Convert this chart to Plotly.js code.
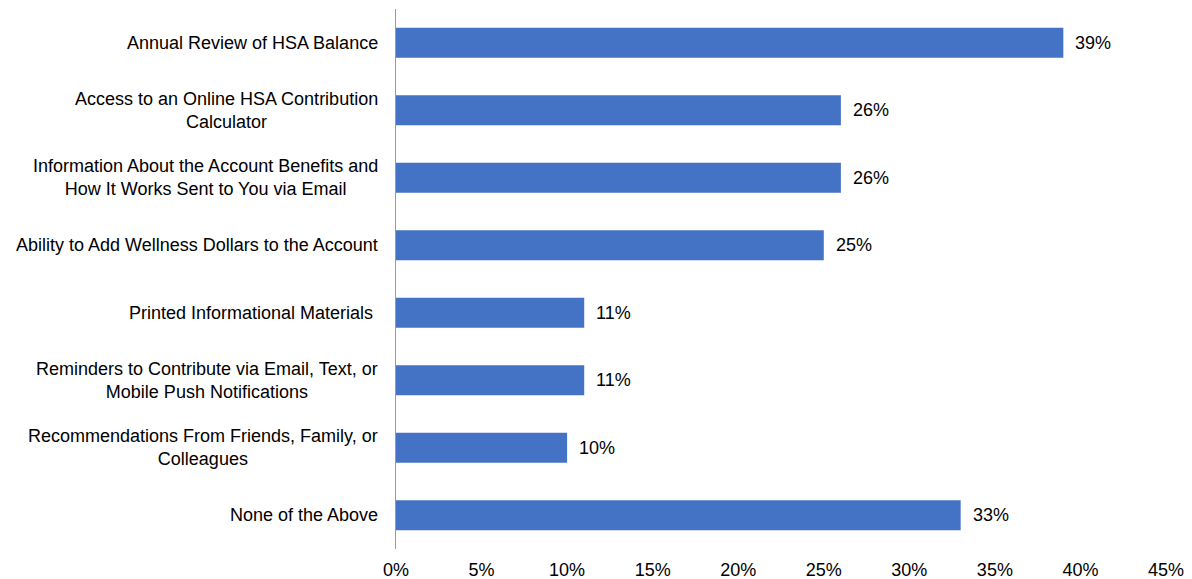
<!DOCTYPE html>
<html>
<head>
<meta charset="utf-8">
<script src="https://cdn.plot.ly/plotly-3.0.1.min.js"></script>
<style>html,body{margin:0;padding:0;background:#fff;}#chart{width:1192px;height:579px;}</style>
</head>
<body>
<div id="chart"></div>
<script>
const categories = [
  "Annual Review of HSA Balance",
  "Access to an Online HSA Contribution<br>Calculator",
  "Information About the Account Benefits and<br>How It Works Sent to You via Email",
  "Ability to Add Wellness Dollars to the Account",
  "Printed Informational Materials ",
  "Reminders to Contribute via Email, Text, or<br>Mobile Push Notifications",
  "Recommendations From Friends, Family, or<br>Colleagues",
  "None of the Above"
];
const values = [0.39, 0.26, 0.26, 0.25, 0.11, 0.11, 0.10, 0.33];
const valueLabels = ["39%", "26%", "26%", "25%", "11%", "11%", "10%", "33%"];
const tickVals = [0, 0.05, 0.10, 0.15, 0.20, 0.25, 0.30, 0.35, 0.40, 0.45];
const tickText = ["0%", "5%", "10%", "15%", "20%", "25%", "30%", "35%", "40%", "45%"];

const font = {family: "Liberation Sans, Arial, sans-serif", size: 18, color: "#000"};

const annotations = [];
categories.forEach((c, i) => {
  annotations.push({
    x: values[i], y: c, xref: "x", yref: "y", text: valueLabels[i],
    showarrow: false, xanchor: "left", yanchor: "middle", xshift: 10, font: font
  });
  annotations.push({
    x: 0, y: c, xref: "x", yref: "y", text: c,
    showarrow: false, xanchor: "right", yanchor: "middle", align: "center", xshift: -16, font: font
  });
});

const trace = {
  type: "bar", orientation: "h",
  x: values, y: categories,
  marker: {color: "#4472C4"},
  width: 0.445,
  hoverinfo: "none"
};

const layout = {
  width: 1192, height: 579,
  margin: {l: 396, r: 26, t: 9, b: 30},
  paper_bgcolor: "#fff", plot_bgcolor: "#fff",
  font: font,
  showlegend: false,
  xaxis: {
    range: [0, 0.45], tickvals: tickVals, ticktext: tickText,
    showgrid: false, zeroline: false, showline: false, ticks: "",
    tickfont: font, ticklabelstandoff: 8, fixedrange: true
  },
  yaxis: {
    categoryorder: "array", categoryarray: categories, autorange: "reversed",
    showticklabels: false, showgrid: false, zeroline: false,
    showline: true, linecolor: "#999999", linewidth: 1, ticks: "", fixedrange: true
  },
  annotations: annotations
};

Plotly.newPlot("chart", [trace], layout, {displayModeBar: false, staticPlot: true});
</script>
</body>
</html>
